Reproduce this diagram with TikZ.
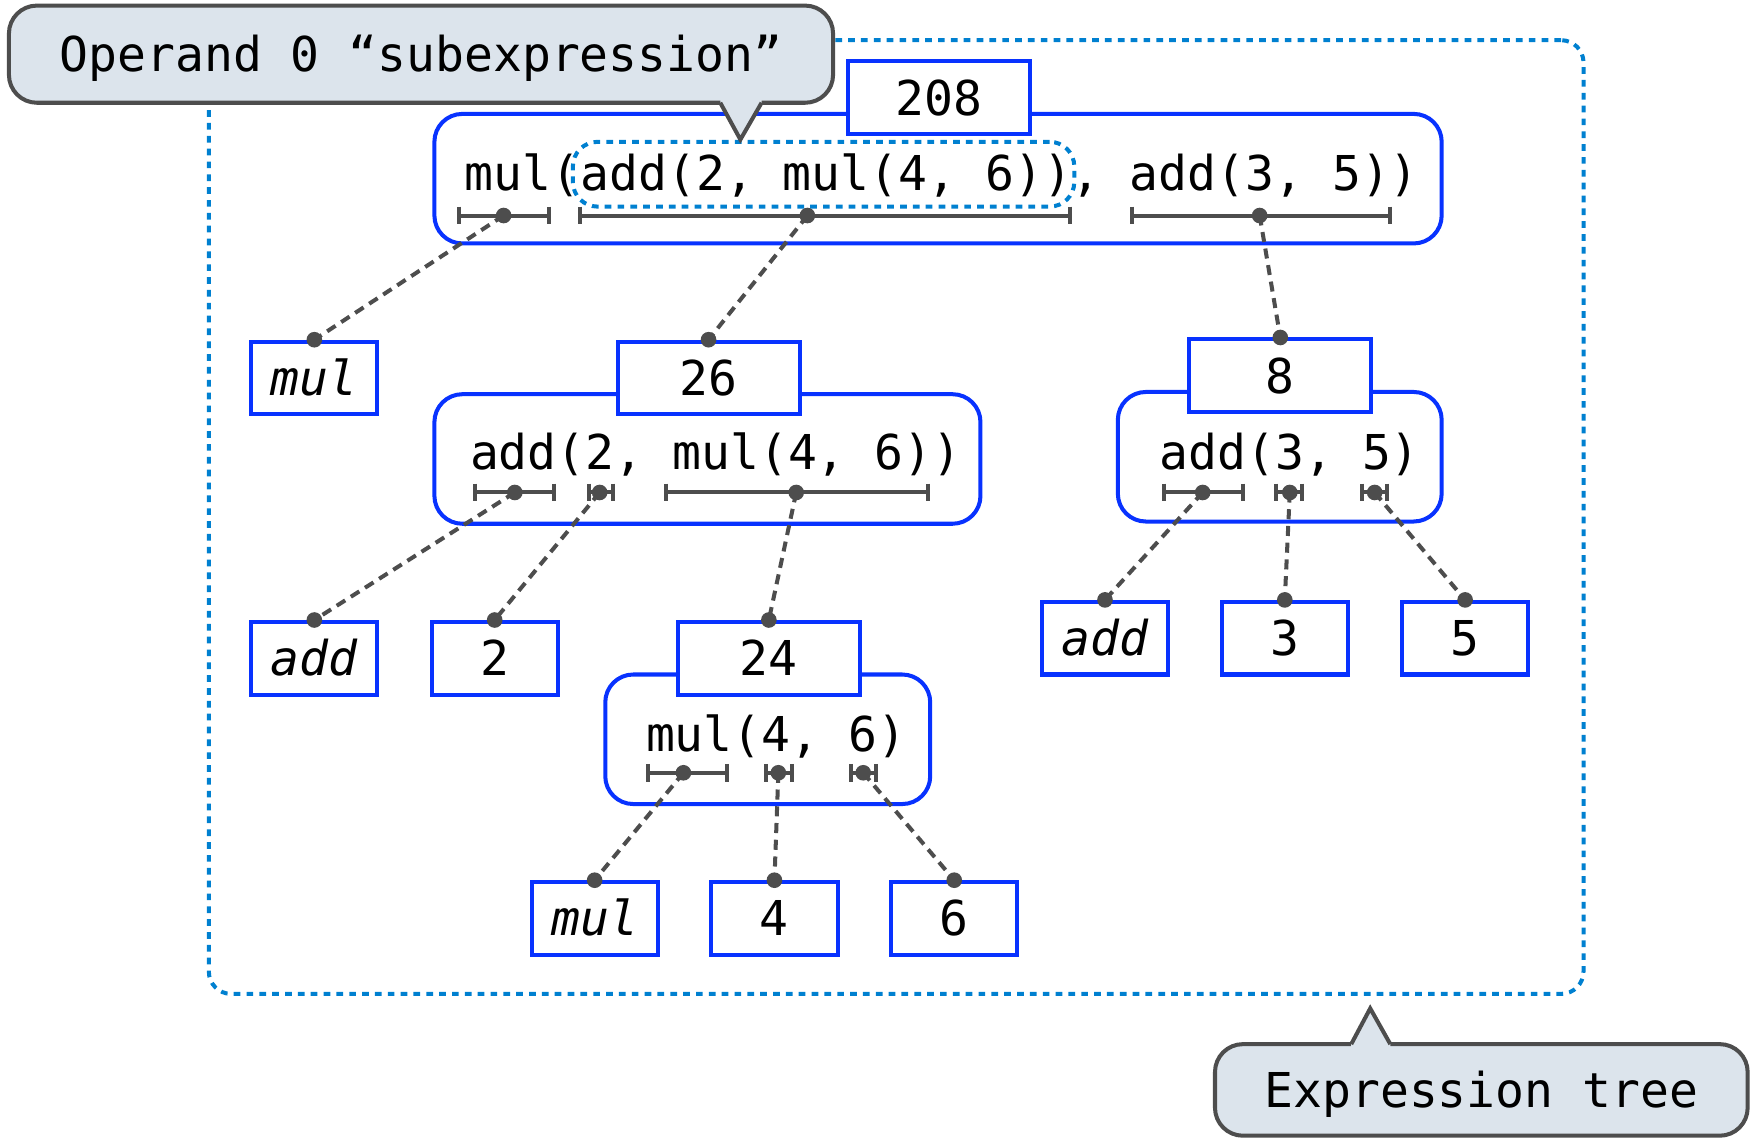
\documentclass[tikz,border=0pt]{standalone}
\usepackage{fontspec}
\setmonofont{DejaVu Sans Mono}
\definecolor{treeblue}{RGB}{8,50,255}
\definecolor{frameblue}{RGB}{0,128,208}
\definecolor{linegray}{RGB}{77,77,77}
\definecolor{bubblefill}{RGB}{220,228,236}
\newcommand\codefont{\ttfamily\fontsize{43}{50}\selectfont}
\newcommand\opspan[5]{% name, x1, x2, xdot, y
  \draw[spanbar] (#2,#5-8) -- (#2,#5+8) (#2,#5) -- (#3,#5) (#3,#5-8) -- (#3,#5+8);
  \coordinate (#1) at (#4,#5);}
\tikzset{
  code/.style={font=\codefont, inner sep=0pt, anchor=base},
  valbox/.style={draw=treeblue, line width=3.6pt, fill=white, minimum width=163pt,
    minimum height=65pt, inner sep=0pt, font=\codefont, text height=31pt, text depth=0pt},
  leafbox/.style={valbox, minimum width=113pt},
  exprframe/.style={draw=treeblue, line width=3.6pt, rounded corners=25pt, inner sep=0pt,
    minimum height=116pt},
  spanbar/.style={draw=linegray, line width=3.6pt},
  conn/.style={draw=linegray, line width=3.6pt, dash pattern=on 9pt off 6pt},
  dotmark/.style={fill=linegray},
  dotframe/.style={draw=frameblue, line width=3.6pt, dash pattern=on 6pt off 5.5pt},
  bubble/.style={draw=linegray, fill=bubblefill, line width=3.6pt, rounded corners=25pt,
    inner sep=0pt, font=\codefont, text height=31pt, text depth=0pt},
  pointer/.style={draw=linegray, line width=3.6pt, line join=miter},
}
\begin{document}
\begin{tikzpicture}[x=1pt,y=-1pt]
\useasboundingbox (0,0) rectangle (1568,1020.8);
% outer expression-tree frame
\node[dotframe, rounded corners=20pt, minimum width=1231pt, minimum height=854pt, inner sep=0pt] (tree) at (802.5,463) {};
% expression frames
\node[exprframe, minimum width=902pt] (e0) at (840,160) {};
\node[exprframe, minimum width=489pt] (e1) at (633.5,411) {};
\node[exprframe, minimum width=290pt] (e2) at (1146,409) {};
\node[exprframe, minimum width=291pt] (e3) at (687.5,662) {};
% subexpression highlight
\node[dotframe, rounded corners=22pt, minimum width=449pt, minimum height=58pt, inner sep=0pt] (sub) at (737.5,156) {};
% value boxes
\node[valbox] (v208) at (840.5,87.5) {208};
\node[valbox] (v26) at (634.5,338.5) {26};
\node[valbox] (v8) at (1146.5,336.5) {8};
\node[valbox] (v24) at (688.5,589.5) {24};
% leaves
\node[leafbox] (lmul1) at (281.5,338.5) {\itshape mul};
\node[leafbox] (ladd1) at (281.5,589.5) {\itshape add};
\node[leafbox] (l2) at (443,589.5) {2};
\node[leafbox] (ladd2) at (989.5,571.5) {\itshape add};
\node[leafbox] (l3) at (1150.5,571.5) {3};
\node[leafbox] (l5) at (1312,571.5) {5};
\node[leafbox] (lmul2) at (532.5,822.5) {\itshape mul};
\node[leafbox] (l4) at (693.5,822.5) {4};
\node[leafbox] (l6) at (854.5,822.5) {6};
% expression texts
\node[code] (t0) at (843.5,171) {mul(add(2, mul(4, 6)), add(3, 5))};
\node[code] (t1) at (641,420.5) {add(2, mul(4, 6))};
\node[code] (t2) at (1155,420.5) {add(3, 5)};
\node[code] (t3) at (695,672.5) {mul(4, 6)};
% operand spans
\opspan{b0a}{411}{492}{451}{193}
\opspan{b0b}{519}{958}{723}{193}
\opspan{b0c}{1014}{1245}{1128}{193}
\opspan{b1a}{425}{496}{461}{441}
\opspan{b1b}{527}{549}{537}{441}
\opspan{b1c}{596}{831}{713}{441}
\opspan{b2a}{1042}{1113}{1077}{441}
\opspan{b2b}{1143}{1166}{1155}{441}
\opspan{b2c}{1220}{1242}{1231}{441}
\opspan{b3a}{580}{651}{612}{692}
\opspan{b3b}{686}{709}{697}{692}
\opspan{b3c}{762}{784}{773}{692}
% connectors
\draw[conn] (b0a) -- (lmul1.north);
\draw[conn] (b0b) -- (v26.north);
\draw[conn] (b0c) -- (v8.north);
\draw[conn] (b1a) -- (ladd1.north);
\draw[conn] (b1b) -- (l2.north);
\draw[conn] (b1c) -- (v24.north);
\draw[conn] (b2a) -- (ladd2.north);
\draw[conn] (b2b) -- (l3.north);
\draw[conn] (b2c) -- (l5.north);
\draw[conn] (b3a) -- (lmul2.north);
\draw[conn] (b3b) -- (l4.north);
\draw[conn] (b3c) -- (l6.north);
% dots
\foreach \p in {b0a,b0b,b0c,b1a,b1b,b1c,b2a,b2b,b2c,b3a,b3b,b3c,
  lmul1.north,v26.north,v8.north,ladd1.north,l2.north,v24.north,
  ladd2.north,l3.north,l5.north,lmul2.north,l4.north,l6.north}
  \fill[dotmark] (\p) circle (7pt);
% callout: operand 0
\node[bubble, minimum width=738pt, minimum height=87pt] (opnote) at (377,48.5) {Operand 0 “subexpression”};
\fill[bubblefill] (645,88) -- (682,88) -- (682,92) -- (663,125) -- (645,92) -- cycle;
\draw[pointer] (645,92) -- (663,125) -- (682,92);
% callout: expression tree
\node[bubble, minimum width=477pt, minimum height=82pt] (treenote) at (1326.5,976) {Expression tree};
\fill[bubblefill] (1210,939) -- (1245,939) -- (1245,935) -- (1227,903) -- (1210,935) -- cycle;
\draw[pointer] (1210,935) -- (1227,903) -- (1245,935);
\end{tikzpicture}
\end{document}
